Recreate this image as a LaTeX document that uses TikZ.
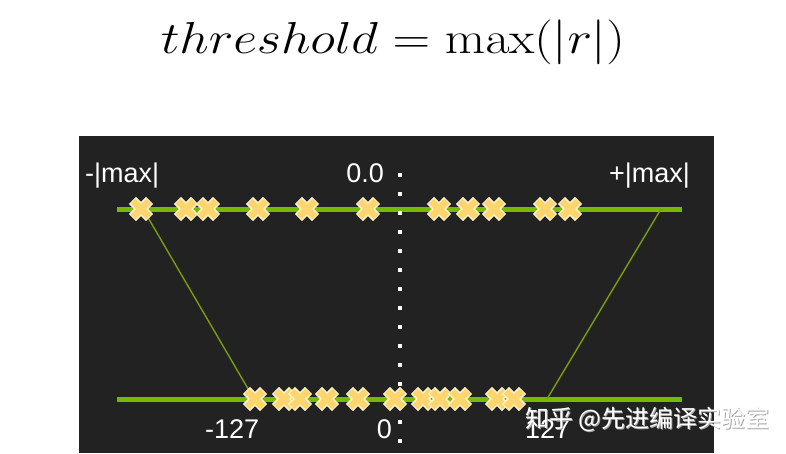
\documentclass[tikz,border=0pt]{standalone}
\usepackage[no-math]{fontspec}
\newfontfamily\labelfont{Liberation Sans}
\newfontfamily\cjkfont{Noto Sans CJK SC}
\definecolor{panelbg}{HTML}{222222}
\definecolor{nvgreen}{HTML}{76B900}
\definecolor{olive}{HTML}{7A9A10}
\definecolor{xyellow}{HTML}{FCD56E}
\definecolor{xedge}{HTML}{FFF4CC}
\tikzset{
  axisline/.style={nvgreen, line width=5pt},
  mapline/.style={olive, line width=1.4pt},
  zeroline/.style={white, line width=4pt, dash pattern=on 4pt off 15pt},
  lbl/.style={text=white, font=\labelfont\fontsize{27}{27}\selectfont, inner sep=0pt},
  xmark/.pic={
    \draw[xedge, line width=10pt] (-8.6,-8.6)--(8.6,8.6) (-8.6,8.6)--(8.6,-8.6);
    \draw[xyellow, line width=7pt] (-7.8,-7.8)--(7.8,7.8) (-7.8,7.8)--(7.8,-7.8);
  }
}
\begin{document}
\begin{tikzpicture}[x=1pt,y=-1pt]
\useasboundingbox (0,0) rectangle (786,453);
\fill[white] (0,0) rectangle (786,453);
% title
\node[inner sep=0pt] (title) at (393,42) {\scalebox{2.1}[1.8]{\fontsize{24.88}{25}\selectfont$threshold = \max(|r|)$}};
% panel
\fill[panelbg] (79,136) rectangle (714,453);
% axis lines
\coordinate (tL) at (117,209); \coordinate (tR) at (682,209);
\coordinate (bL) at (117,399); \coordinate (bR) at (682,399);
\draw[axisline] (tL) -- (tR);
\draw[axisline] (bL) -- (bR);
% mapping lines
\coordinate (mapTL) at (143,209); \coordinate (mapBL) at (254,399);
\coordinate (mapTR) at (661,209); \coordinate (mapBR) at (547,399);
\draw[mapline] (mapTL) -- (mapBL);
\draw[mapline] (mapTR) -- (mapBR);
% zero line
\coordinate (zT) at (400,173); \coordinate (zB) at (400,445);
\draw[zeroline] (zT) -- (zB);
% crosses top
\foreach \x in {141,186,208,258,307,368,439,468,494,545,570}
  \pic at (\x,209) {xmark};
% crosses bottom
\foreach \x in {255,284,300,327,358,395,423,440,460,497,514}
  \pic at (\x,399) {xmark};
% labels
\node[lbl, anchor=base west] (nmax) at (85,182) {-|max|};
\node[lbl, anchor=base east] (zero0) at (384,182) {0.0};
\node[lbl, anchor=base east] (pmax) at (690,182) {+|max|};
\node[lbl, anchor=base west] (n127) at (205,438) {-127};
\node[lbl, anchor=base east] (zero) at (392,438) {0};
\node[lbl, anchor=base west] (p127) at (525,438) {127};
% watermark
\node[inner sep=0pt, anchor=west, text=gray!70, font=\cjkfont\fontsize{24}{24}\selectfont] at (526,420) {知乎 @先进编译实验室};
\node[inner sep=0pt, anchor=west, text=white, font=\cjkfont\fontsize{24}{24}\selectfont] (wm) at (525,419) {知乎 @先进编译实验室};
\end{tikzpicture}
\end{document}
